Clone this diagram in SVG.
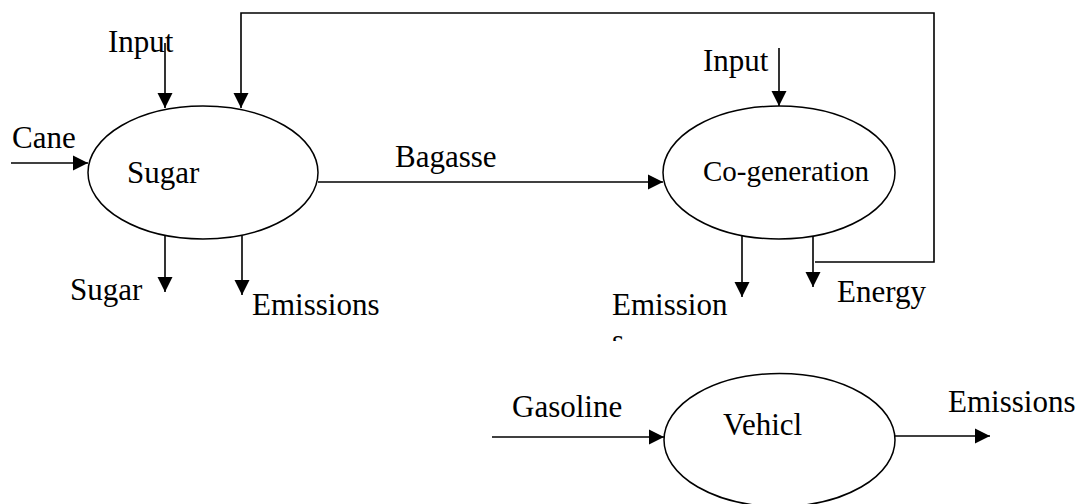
<svg xmlns="http://www.w3.org/2000/svg" width="1083" height="504" viewBox="0 0 1083 504">
<style>
.n{fill:#fff;stroke:#000;stroke-width:1.5}
.c{fill:none;stroke:#000;stroke-width:1.6}
text{font-family:"Liberation Serif","Times New Roman",serif;font-size:31px;fill:#000}
.sm{font-size:29px}
</style>
<defs>
<marker id="ah" markerUnits="userSpaceOnUse" markerWidth="16" markerHeight="16" refX="15" refY="8" orient="auto">
<path d="M0,0.5 L15,8 L0,15.5 Z" fill="#000"/>
</marker>
<clipPath id="frag"><rect x="600" y="336" width="40" height="5"/></clipPath>
</defs>
<rect width="1083" height="504" fill="#fff"/>
<g id="connectors">
<line class="c" x1="165" y1="43" x2="165" y2="108" marker-end="url(#ah)"/>
<path class="c" d="M815,262 H934 V13 H241 V108" marker-end="url(#ah)"/>
<line class="c" x1="11" y1="163" x2="88" y2="163" marker-end="url(#ah)"/>
<line class="c" x1="318" y1="182" x2="663" y2="182" marker-end="url(#ah)"/>
<line class="c" x1="165" y1="236" x2="165" y2="292" marker-end="url(#ah)"/>
<line class="c" x1="242" y1="236" x2="242" y2="295" marker-end="url(#ah)"/>
<line class="c" x1="779" y1="48" x2="779" y2="106" marker-end="url(#ah)"/>
<line class="c" x1="742" y1="236" x2="742" y2="297" marker-end="url(#ah)"/>
<line class="c" x1="813" y1="236" x2="813" y2="287" marker-end="url(#ah)"/>
<line class="c" x1="492" y1="437" x2="664" y2="437" marker-end="url(#ah)"/>
<line class="c" x1="895" y1="436" x2="990" y2="436" marker-end="url(#ah)"/>
</g>
<g id="sugar">
<ellipse class="n" cx="203" cy="172.5" rx="115" ry="66.5"/>
<text x="127" y="183">Sugar</text>
</g>
<g id="cogeneration">
<ellipse class="n" cx="779" cy="172.5" rx="116" ry="66.5"/>
<text class="sm" x="703" y="181">Co-generation</text>
</g>
<g id="vehicle">
<ellipse class="n" cx="779.5" cy="440" rx="115.5" ry="66.5"/>
<text x="723" y="435">Vehicl</text>
</g>
<g id="labels">
<text x="108" y="52">Input</text>
<text x="12" y="148">Cane</text>
<text x="70" y="300">Sugar</text>
<text x="252" y="315">Emissions</text>
<text x="395" y="167">Bagasse</text>
<text x="703" y="71">Input</text>
<text x="612" y="315">Emission</text>
<text x="612" y="351" clip-path="url(#frag)">s</text>
<text x="837" y="302">Energy</text>
<text x="512" y="417">Gasoline</text>
<text x="948" y="412">Emissions</text>
</g>
</svg>
